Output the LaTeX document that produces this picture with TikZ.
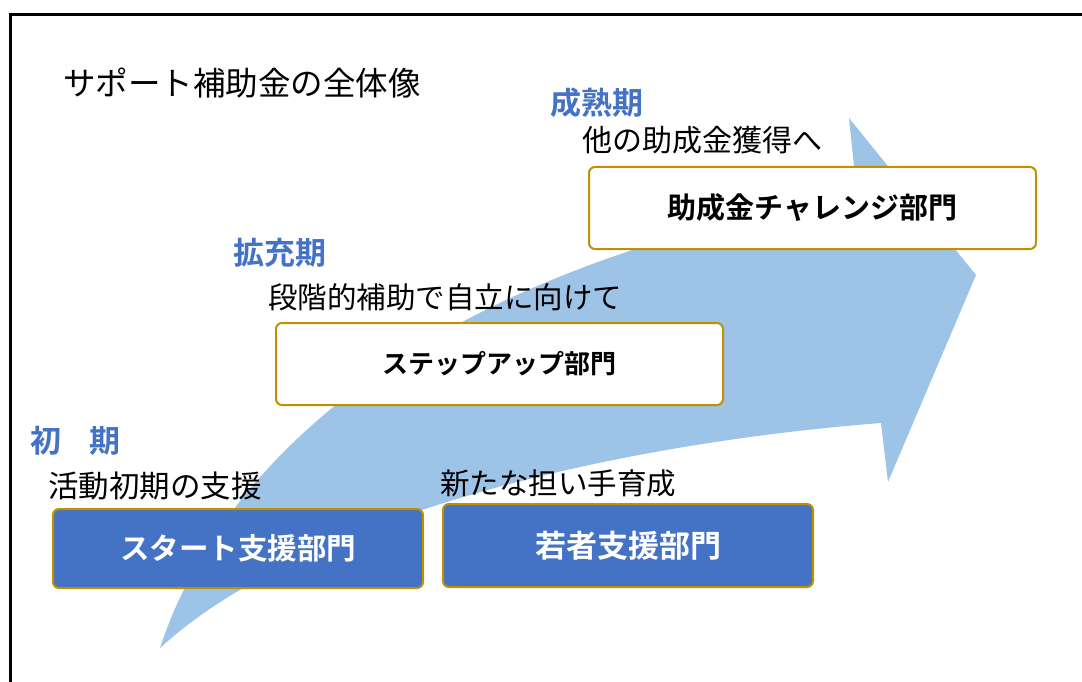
\documentclass[tikz,border=0pt]{standalone}
\usepackage{fontspec}
\setmainfont{Noto Sans CJK JP}[BoldFont={Noto Sans CJK JP Bold}]
\definecolor{arrowblue}{HTML}{9DC3E6}
\definecolor{boxblue}{HTML}{4472C4}
\definecolor{gold}{HTML}{BF9000}
\definecolor{labelblue}{HTML}{4472C4}
\begin{document}
\begin{tikzpicture}[x=1pt,y=-1pt,
  txt/.style={anchor=west,inner sep=0pt,font=\fontsize{30.5}{34}\selectfont},
  phase/.style={anchor=west,inner sep=0pt,text=labelblue,font=\fontsize{31}{34}\selectfont\bfseries},
  deptbox/.style={draw=gold,line width=2pt,rounded corners=6pt,inner sep=0pt},
  whitebox/.style={deptbox,fill=white,text=black},
  bluebox/.style={deptbox,fill=boxblue,text=white}]
\useasboundingbox (0,0) rectangle (1082,682);
% frame
\draw[line width=3pt] (10,682) -- (10,14.5) -- (1082,14.5);
% big curved arrow
\fill[arrowblue] (160,648) .. controls (220,465) and (420,270) .. (857,195)
  -- (849,118) -- (976,275) -- (888,482) -- (881,423)
  .. controls (600,445) and (300,520) .. (160,648) -- cycle;
% boxes
\node[whitebox,minimum width=447pt,minimum height=82pt,font=\fontsize{29}{32}\selectfont\bfseries] (challenge) at (812.5,208) {助成金チャレンジ部門};
\node[whitebox,minimum width=447pt,minimum height=82pt,font=\fontsize{26}{32}\selectfont\bfseries] (stepup) at (499.5,364) {ステップアップ部門};
\node[bluebox,minimum width=370pt,minimum height=79pt,font=\fontsize{29.5}{32}\selectfont\bfseries] (start) at (238,548.5) {スタート支援部門};
\node[bluebox,minimum width=370pt,minimum height=83pt,font=\fontsize{31}{32}\selectfont\bfseries] (young) at (628,545.5) {若者支援部門};
% texts
\node[txt,font=\fontsize{32.5}{36}\selectfont] (title) at (63,83) {サポート補助金の全体像};
\node[phase] (p3) at (550,103) {成熟期};
\node[txt,font=\fontsize{30}{34}\selectfont] (d3) at (582,140) {他の助成金獲得へ};
\node[phase] (p2) at (233,253) {拡充期};
\node[txt,font=\fontsize{29.5}{34}\selectfont] (d2) at (268,297) {段階的補助で自立に向けて};
\node[phase] (p1) at (30,441) {初\hspace{0.9em}期};
\node[txt] (d1) at (48,486) {活動初期の支援};
\node[txt,font=\fontsize{29.5}{34}\selectfont] (d4) at (440,483) {新たな担い手育成};
\end{tikzpicture}
\end{document}
